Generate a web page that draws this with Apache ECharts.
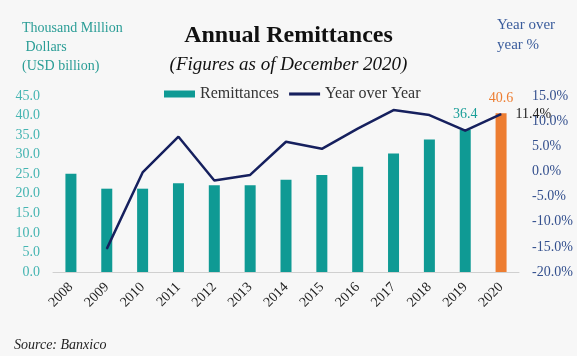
<!DOCTYPE html>
<html><head><meta charset="utf-8">
<script src="https://cdn.jsdelivr.net/npm/echarts@6/dist/echarts.min.js"></script>
<style>html,body{margin:0;padding:0;background:#f7f7f7}#c{width:577px;height:356px}</style>
</head><body><div id="c"></div>
<script>
const years = ['2008','2009','2010','2011','2012','2013','2014','2015','2016','2017','2018','2019','2020'];
const remittances = [25.1, 21.3, 21.3, 22.7, 22.2, 22.2, 23.6, 24.8, 26.9, 30.3, 33.9, 36.4, 40.6];
const yoy = [null, -15.4, -0.2, 6.9, -1.8, -0.7, 5.9, 4.5, 8.5, 12.2, 11.2, 8.1, 11.4];
const leftTicks = {min: 0, max: 45, interval: 5};
const rightTicks = {min: -20, max: 15, interval: 5};
const labeledBars = {'2019': '#1a9e98', '2020': '#ed7d31'};

const serif = '"Liberation Serif", "DejaVu Serif", serif';
const teal = '#0f9a94', orange = '#ed7d31', navy = '#16205e';

const barData = remittances.map((v, i) => {
  const y = years[i];
  const isLast = i === years.length - 1;
  const d = {value: v, itemStyle: {color: isLast ? orange : teal}};
  if (labeledBars[y]) {
    d.label = {show: true, position: 'top', distance: 8, color: labeledBars[y],
      fontFamily: serif, fontSize: 14, formatter: v.toFixed(1)};
  }
  return d;
});
const lineData = yoy.map((v, i) => {
  if (i === yoy.length - 1) {
    return {value: v, label: {show: true, position: 'right', distance: 14, color: '#222',
      fontFamily: serif, fontSize: 14, formatter: v.toFixed(1) + '%'}};
  }
  return v;
});

const chart = echarts.init(document.getElementById('c'), null, {renderer: 'canvas'});
chart.setOption({
  backgroundColor: '#f7f7f7',
  animation: false,
  grid: {left: 53, right: 58, top: 96, bottom: 84, containLabel: false},
  legend: {
    left: 159, top: 81, itemWidth: 31, itemHeight: 7, itemGap: 10,
    textStyle: {fontFamily: serif, fontSize: 16, color: '#333'},
    data: [{name: 'Remittances', icon: 'rect'}, {name: 'Year over Year', icon: 'path://M0,0h30v3h-30z', itemStyle: {color: navy}}]
  },
  graphic: [
    {type: 'text', left: 'center', top: 24, style: {text: 'Annual Remittances', font: 'bold 24px ' + serif, fill: '#111'}},
    {type: 'text', left: 'center', top: 55, style: {text: '(Figures as of December 2020)', font: 'italic 19px ' + serif, fill: '#111'}},
    {type: 'text', left: 22, top: 19, style: {text: 'Thousand Million\n Dollars\n(USD billion)', font: '14px ' + serif, fill: '#2a9d96', lineHeight: 19}},
    {type: 'text', left: 497, top: 15, style: {text: 'Year over\nyear %', font: '15px ' + serif, fill: '#3a5c9c', lineHeight: 20}},
    {type: 'text', left: 14, top: 338, style: {text: 'Source: Banxico', font: 'italic 14px ' + serif, fill: '#222'}}
  ],
  xAxis: {
    type: 'category', data: years,
    axisLine: {lineStyle: {color: '#d0d0d0', width: 1}},
    axisTick: {show: false},
    axisLabel: {rotate: 45, margin: 13, fontFamily: serif, fontSize: 14, color: '#222', interval: 0}
  },
  yAxis: [
    {type: 'value', min: leftTicks.min, max: leftTicks.max, interval: leftTicks.interval,
      splitLine: {show: false}, axisLine: {show: false}, axisTick: {show: false},
      axisLabel: {margin: 13, fontFamily: serif, fontSize: 14, color: '#45b5b2', formatter: v => v.toFixed(1)}},
    {type: 'value', min: rightTicks.min, max: rightTicks.max, interval: rightTicks.interval,
      splitLine: {show: false}, axisLine: {show: false}, axisTick: {show: false},
      axisLabel: {margin: 13, fontFamily: serif, fontSize: 14, color: '#34508e', formatter: v => v.toFixed(1) + '%'}}
  ],
  series: [
    {name: 'Remittances', type: 'bar', barWidth: 11, data: barData, itemStyle: {color: teal}},
    {name: 'Year over Year', type: 'line', yAxisIndex: 1, data: lineData, symbol: 'circle', symbolSize: 1, showSymbol: true,
      lineStyle: {color: navy, width: 2.5}, itemStyle: {color: navy}, connectNulls: false}
  ]
});
</script></body></html>
